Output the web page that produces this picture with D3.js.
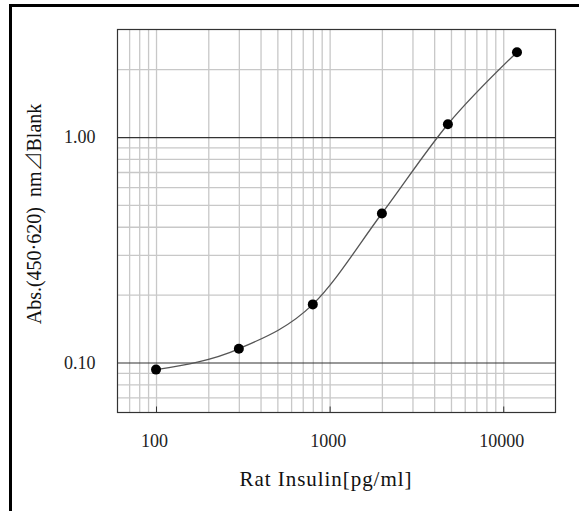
<!DOCTYPE html>
<html>
<head>
<meta charset="utf-8">
<script src="https://cdn.jsdelivr.net/npm/d3@7"></script>
<style>
  body { margin: 0; background: #fff; }
  #chart { width: 579px; height: 511px; }
</style>
</head>
<body>
<div id="chart"></div>
<script>
// Standard curve: rat insulin concentration vs absorbance (log-log)
const concentrations = [100, 300, 800, 2000, 4800, 12000];
const absorbances = [0.093, 0.115, 0.181, 0.458, 1.14, 2.38];

const xTickLabels = [100, 1000, 10000];
const yTickLabels = [0.1, 1];
const xMinorGrid = [70, 80, 90, 200, 300, 400, 500, 600, 700, 800, 900,
  2000, 3000, 4000, 5000, 6000, 7000, 8000, 9000];
const yMinorGrid = [0.07, 0.08, 0.09, 0.2, 0.3, 0.4, 0.5, 0.6, 0.7, 0.8, 0.9, 2];

function renderCurve(containerId) {
  const width = 579;
  const height = 511;
  const margin = { top: 29.5, right: 23.5, bottom: 98.5, left: 117.5 };
  const innerWidth = width - margin.left - margin.right;
  const innerHeight = height - margin.top - margin.bottom;
  const serif = "'Liberation Serif', serif";

  const container = d3.select(`#${containerId}`);
  container.selectAll("*").remove();

  const svg = container.append("svg")
    .attr("width", width)
    .attr("height", height);

  // outer frame (runs off the right and bottom edges)
  svg.append("rect")
    .attr("x", 10.5)
    .attr("y", 5.5)
    .attr("width", 700)
    .attr("height", 700)
    .attr("fill", "none")
    .attr("stroke", "#000")
    .attr("stroke-width", 3);

  const g = svg.append("g")
    .attr("transform", `translate(${margin.left},${margin.top})`);

  const x = d3.scaleLog()
    .domain([60, 20000])
    .range([0, innerWidth]);

  const y = d3.scaleLog()
    .domain([0.06, 3])
    .range([innerHeight, 0]);

  // minor grid lines
  g.append("g")
    .call(d3.axisBottom(x).tickValues(xMinorGrid.concat(xTickLabels))
      .tickSize(innerHeight).tickFormat(""))
    .call(a => a.select(".domain").remove())
    .selectAll("line")
    .attr("stroke", "#c8c8c8")
    .attr("stroke-width", 1.3);

  g.append("g")
    .call(d3.axisLeft(y).tickValues(yMinorGrid)
      .tickSize(-innerWidth).tickFormat(""))
    .call(a => a.select(".domain").remove())
    .selectAll("line")
    .attr("stroke", "#c8c8c8")
    .attr("stroke-width", 1.3);

  // major horizontal lines
  g.append("g")
    .call(d3.axisLeft(y).tickValues(yTickLabels)
      .tickSize(-innerWidth).tickFormat(""))
    .call(a => a.select(".domain").remove())
    .selectAll("line")
    .attr("stroke", "#333")
    .attr("stroke-width", 1.2);

  // plot border
  g.append("rect")
    .attr("width", innerWidth)
    .attr("height", innerHeight)
    .attr("fill", "none")
    .attr("stroke", "#333")
    .attr("stroke-width", 1.2);

  // x axis: small inward ticks + labels
  g.append("g")
    .attr("transform", `translate(0,${innerHeight})`)
    .call(d3.axisBottom(x).tickValues(xTickLabels)
      .tickSizeInner(-6).tickSizeOuter(0).tickPadding(22)
      .tickFormat(d3.format("d")))
    .call(a => a.select(".domain").remove())
    .call(a => a.selectAll("line").attr("stroke", "#333"))
    .selectAll("text")
    .attr("dx", -2)
    .style("font-family", serif)
    .style("font-size", "18px")
    .style("fill", "#222");

  // y axis labels
  g.append("g")
    .call(d3.axisLeft(y).tickValues(yTickLabels)
      .tickSize(0).tickPadding(22)
      .tickFormat(d3.format(".2f")))
    .call(a => a.select(".domain").remove())
    .selectAll("text")
    .style("font-family", serif)
    .style("font-size", "18px")
    .style("fill", "#222");

  const points = concentrations.map((c, i) => ({ c, a: absorbances[i] }));

  const line = d3.line()
    .x(d => x(d.c))
    .y(d => y(d.a))
    .curve(d3.curveMonotoneX);

  g.append("path")
    .datum(points)
    .attr("fill", "none")
    .attr("stroke", "#555")
    .attr("stroke-width", 1.3)
    .attr("d", line);

  g.selectAll("circle")
    .data(points)
    .join("circle")
    .attr("cx", d => x(d.c))
    .attr("cy", d => y(d.a))
    .attr("r", 5)
    .attr("fill", "#000");

  // axis titles
  svg.append("text")
    .attr("x", 325.5)
    .attr("y", 486)
    .attr("text-anchor", "middle")
    .attr("textLength", 172)
    .attr("lengthAdjust", "spacing")
    .style("font-family", serif)
    .style("font-size", "21px")
    .style("fill", "#111")
    .text("Rat Insulin[pg/ml]");

  const yTitle = svg.append("text")
    .attr("transform", "translate(41,214) rotate(-90)")
    .attr("text-anchor", "middle")
    .style("white-space", "pre")
    .style("font-family", serif)
    .style("font-size", "20px")
    .style("fill", "#111");
  yTitle.append("tspan").text("Abs.(450\u00b7620)  nm");
  yTitle.append("tspan")
    .style("font-family", "'Noto Sans CJK JP', sans-serif")
    .style("font-weight", 300)
    .text("\u22bf");
  yTitle.append("tspan").text("Blank");
}

renderCurve("chart");
</script>
</body>
</html>
